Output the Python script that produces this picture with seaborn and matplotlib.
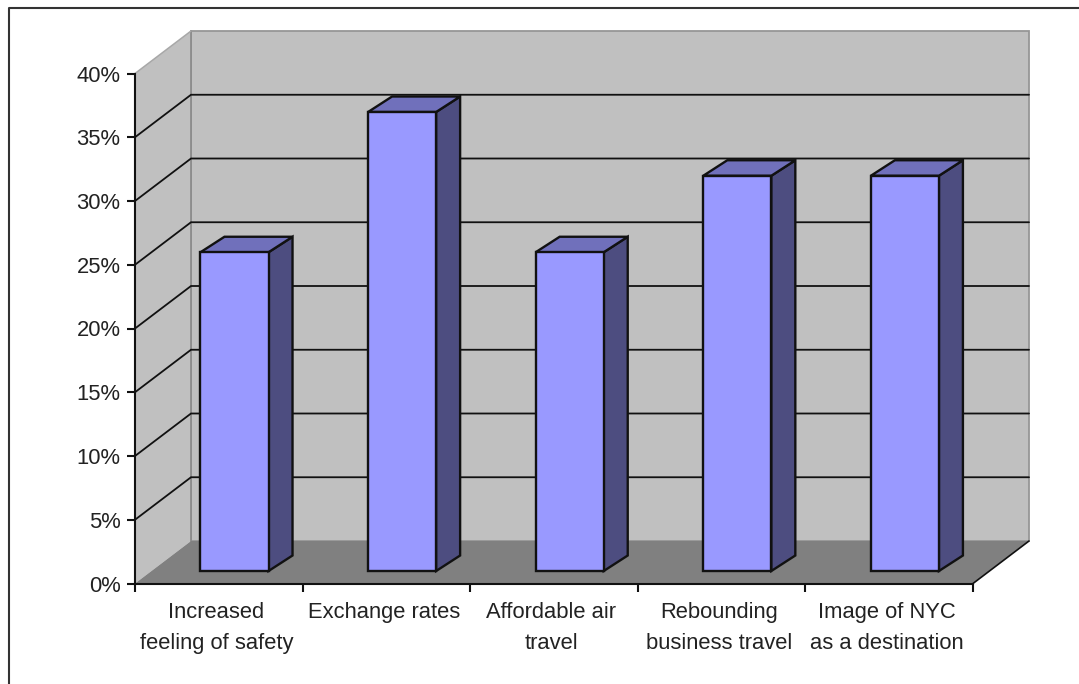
import matplotlib
matplotlib.use("Agg")
import matplotlib.pyplot as plt
import seaborn as sns
import pandas as pd
from matplotlib.lines import Line2D
from matplotlib.patches import Polygon

# Values
categories = ["Increased\nfeeling of safety", "Exchange rates", "Affordable air\ntravel",
              "Rebounding\nbusiness travel", "Image of NYC\nas a destination"]
shares = [25, 36, 25, 31, 31]
y_ticks = [0, 5, 10, 15, 20, 25, 30, 35, 40]

W, H = 1079, 684
df = pd.DataFrame({"reason": categories, "share": shares})

sns.set_theme(style="white")
plt.rcParams["font.family"] = ["Liberation Sans", "DejaVu Sans"]

fig = plt.figure(figsize=(W / 100, H / 100), dpi=100, facecolor="white")
ax = fig.add_axes([135 / W, (H - 583.5) / H, 838 / W, 510 / H])
ax.patch.set_visible(False)

# Bars first, then slide them back onto the floor of the 3D box
sns.barplot(data=df, x="reason", y="share", color="#9999ff", saturation=1, width=0.406,
            edgecolor="#111111", linewidth=1.7, ax=ax, zorder=5)
ax.set_xlim(-0.5, 4.5)
ax.set_ylim(0, 40)

# one category = 167.6 px, one percent = 12.75 px
px_x = 1 / 167.6
px_y = 1 / 12.75
wall_dx, wall_dy = 56 * px_x, 42.5 * px_y
bar_dx, bar_dy = 15.7 * px_x, 12.5 * px_y
side_dx, side_dy = 24 * px_x, 15.5 * px_y

x0, x1 = -0.5, 4.5
wall_color = "#c0c0c0"
wall_edge = "#969696"


def poly(points, face, edge="none", lw=0, z=1):
    ax.add_patch(Polygon(points, closed=True, facecolor=face, edgecolor=edge, linewidth=lw,
                         zorder=z, clip_on=False))


# back wall, side wall, floor
poly([(x0 + wall_dx, wall_dy), (x1 + wall_dx, wall_dy), (x1 + wall_dx, 40 + wall_dy), (x0 + wall_dx, 40 + wall_dy)],
     wall_color, wall_edge, 1.3, 1)
poly([(x0, 0), (x0 + wall_dx, wall_dy), (x0 + wall_dx, 40 + wall_dy), (x0, 40)], wall_color, z=1)
ax.plot([x0 + wall_dx, x0 + wall_dx], [wall_dy, 40 + wall_dy], color="#8c8c8c", lw=1.3, clip_on=False, zorder=1.4)
ax.plot([x0, x0 + wall_dx], [40, 40 + wall_dy], color="#a8a8a8", lw=1.1, clip_on=False, zorder=1.5)
poly([(x0, 0), (x1, 0), (x1 + wall_dx, wall_dy), (x0 + wall_dx, wall_dy)], "#808080", z=2)
ax.plot([x1, x1 + wall_dx], [0, wall_dy], color="#111111", lw=1.2, clip_on=False, zorder=3)

# gridlines run along the side wall and across the back wall
for t in y_ticks[1:-1]:
    ax.plot([x0, x0 + wall_dx, x1 + wall_dx], [t, t + wall_dy, t + wall_dy], color="#111111", lw=1.3,
            clip_on=False, zorder=3, solid_joinstyle="miter")

for bar in ax.patches[:len(shares)]:
    bar.set_x(bar.get_x() + bar_dx)
    bar.set_y(bar_dy)
    left = bar.get_x()
    right = left + bar.get_width()
    top = bar_dy + bar.get_height()
    poly([(right, bar_dy), (right + side_dx, bar_dy + side_dy), (right + side_dx, top + side_dy), (right, top)],
         "#4d4d80", "#111111", 1.7, 4)
    poly([(left, top), (right, top), (right + side_dx, top + side_dy), (left + side_dx, top + side_dy)],
         "#7070bb", "#111111", 1.7, 4)

# axes
for side in ["top", "right"]:
    ax.spines[side].set_visible(False)
for side in ["left", "bottom"]:
    ax.spines[side].set_color("#111111")
    ax.spines[side].set_linewidth(1.5)
    ax.spines[side].set_zorder(4)

ax.set_xlabel("")
ax.set_ylabel("")
ax.set_yticks(y_ticks)
ax.set_yticklabels([f"{t}%" for t in y_ticks])
ax.set_xticks([i - 0.015 for i in range(len(categories))])
ax.set_xticklabels(categories, linespacing=1.6)
ax.set_xticks([i - 0.5 for i in range(len(categories) + 1)], minor=True)
ax.tick_params(axis="y", left=True, length=6, width=1.5, color="#111111", labelsize=15.8, labelcolor="#222222", pad=4.5)
ax.tick_params(axis="x", which="major", bottom=False, length=0, labelsize=15.8, labelcolor="#222222", pad=13.5)
ax.tick_params(axis="x", which="minor", bottom=True, length=6, width=1.5, color="#111111")

# chart frame, only top and left show inside the image
fig.add_artist(Line2D([9 / W, 9 / W, 1], [0, (H - 8) / H, (H - 8) / H], color="#333333", lw=1.5, transform=fig.transFigure))

fig.savefig("out.png", dpi=100, facecolor="white")
